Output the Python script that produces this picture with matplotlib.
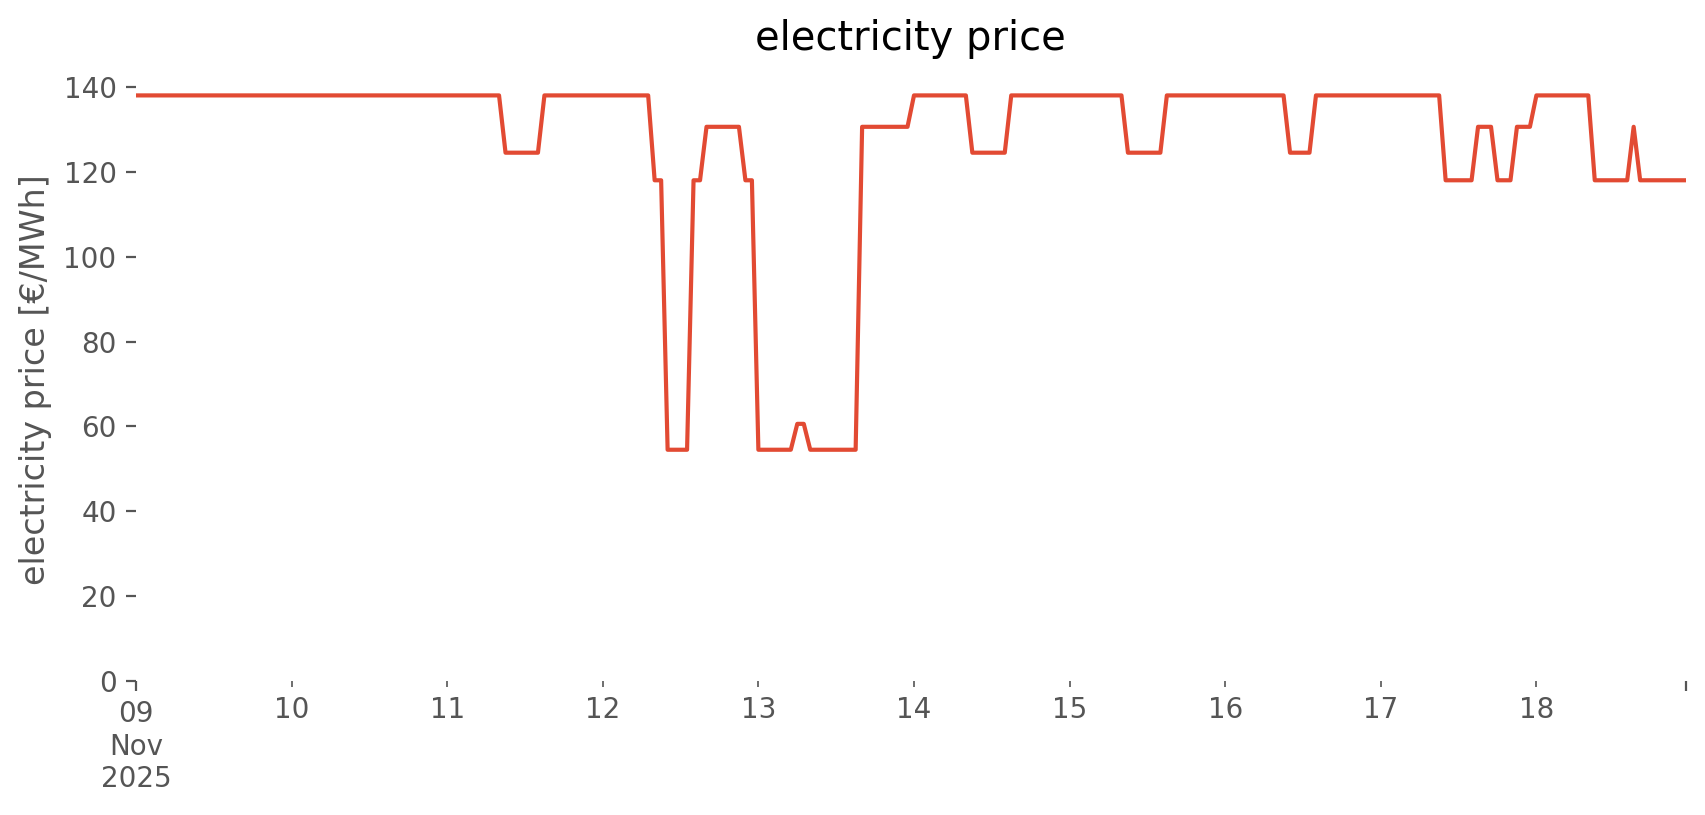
import numpy as np
import matplotlib
matplotlib.use('Agg')
import matplotlib.pyplot as plt
import matplotlib.dates as mdates
from matplotlib.ticker import FixedLocator, FixedFormatter
from datetime import datetime, timedelta

# hourly prices [EUR/MWh], one list per day
day_09 = [138]*24
day_10 = [138]*24
day_11 = [138]*9 + [124.5]*6 + [138]*9
day_12 = [138]*8 + [118]*2 + [54.5]*4 + [118]*2 + [130.6]*6 + [118]*2
day_13 = [54.5]*6 + [60.6]*2 + [54.5]*8 + [130.6]*8
day_14 = [138]*9 + [124.5]*6 + [138]*9
day_15 = [138]*9 + [124.5]*6 + [138]*9
day_16 = [138]*10 + [124.5]*4 + [138]*10
day_17 = [138]*10 + [118]*5 + [130.6]*3 + [118]*3 + [130.6]*3
day_18 = [138]*9 + [118]*6 + [130.6] + [118]*8

days = [day_09, day_10, day_11, day_12, day_13, day_14, day_15, day_16, day_17, day_18]
day_labels = ['10', '11', '12', '13', '14', '15', '16', '17', '18']
first_label = '09\nNov\n2025'

title = 'electricity price'
ylabel = 'electricity price [€/MWh]'

DPI = 200


def main():
    plt.style.use('ggplot')
    plt.rcParams['font.family'] = ['DejaVu Sans']

    price = np.concatenate([np.array(d, dtype=float) for d in days])
    start = datetime(2025, 11, 9)
    times = [start + timedelta(hours=i) for i in range(len(price))]
    x = mdates.date2num(times)

    fig = plt.figure(figsize=(1706/DPI, 815/DPI), dpi=DPI)
    fig.patch.set_facecolor('white')
    ax = fig.add_axes([0.0797, 0.1644, 0.9083, 0.7404])
    ax.set_facecolor('white')
    ax.grid(False)
    for s in ax.spines.values():
        s.set_visible(False)

    ax.plot(x, price, color='#E24A33', linewidth=1.5)

    ax.set_xlim(x[0], x[-1])
    ax.set_ylim(0, 142.2)

    # major ticks at both ends, minor ticks at each day (like pandas does it)
    ax.xaxis.set_major_locator(FixedLocator([x[0], x[-1]]))
    ax.xaxis.set_major_formatter(FixedFormatter([first_label, '']))
    minor_pos = [mdates.date2num(start + timedelta(days=i + 1)) for i in range(len(day_labels))]
    ax.xaxis.set_minor_locator(FixedLocator(minor_pos))
    ax.xaxis.set_minor_formatter(FixedFormatter(day_labels))
    ax.tick_params(axis='x', which='major', length=3.5, colors='#555555', labelsize=10)
    ax.tick_params(axis='x', which='minor', length=2, colors='#555555', labelsize=10)
    for lab in ax.get_xticklabels(which='both'):
        lab.set_horizontalalignment('center')

    ax.set_yticks([0, 20, 40, 60, 80, 100, 120, 140])
    ax.tick_params(axis='y', length=3.5, colors='#555555', labelsize=10)

    ax.set_title(title, fontsize=14.4, color='black', pad=10)
    ax.set_ylabel(ylabel, fontsize=12, color='#555555')

    fig.savefig('out.png', dpi=DPI, facecolor='white')


if __name__ == "__main__":
    main()
